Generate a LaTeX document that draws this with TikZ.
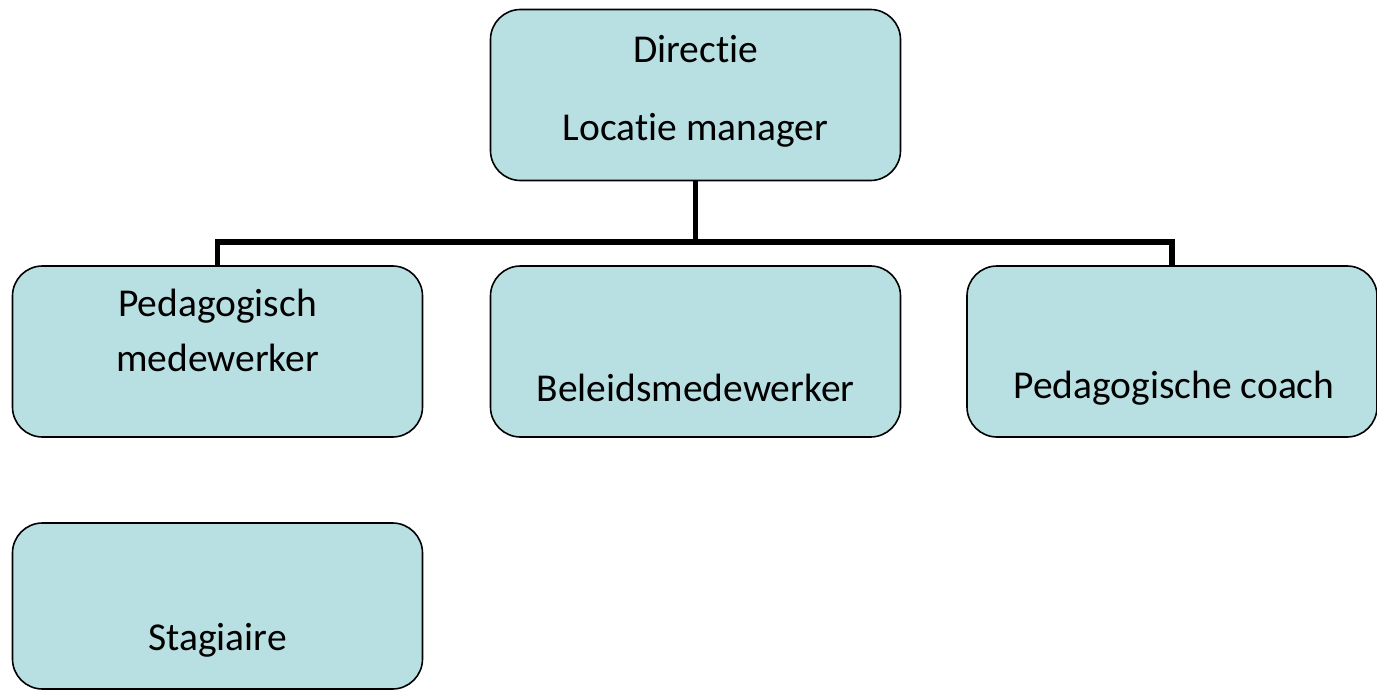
\documentclass[tikz,border=0pt]{standalone}
\usepackage{fontspec}
\setmainfont[RawFeature={-liga;-clig;-calt;-dlig}]{Carlito}
\definecolor{boxfill}{RGB}{184,223,226}
\begin{document}
\begin{tikzpicture}[x=1pt,y=-1pt,
  box/.style={draw=black, line width=1.6pt, fill=boxfill, rounded corners=30pt, minimum width=410pt, minimum height=171pt, inner sep=0pt, outer sep=0pt},
  lbl/.style={font=\fontsize{39.5}{48}\selectfont, inner sep=0pt, anchor=center, text=black},
  conn/.style={draw=black, line width=5.5pt}]
\useasboundingbox (0,0) rectangle (1377,690);
\node[box] (top) at (695.5,95) {};
\node[box] (ped) at (217.5,351.5) {};
\node[box] (mid) at (695.5,351.5) {};
\node[box] (coach) at (1172,351.5) {};
\node[box, minimum height=166pt] (stag) at (217.5,606) {};
\node[lbl] (t1) at (695.5,49) {Directie};
\node[lbl] (t2) at (695.5,130) {Locatie manager};
\node[lbl] (p1) at (217.5,306) {Pedagogisch};
\node[lbl] (p2) at (217.5,358) {medewerker};
\node[lbl] (m1) at (695.5,388) {Beleidsmedewerker};
\node[lbl] (c1) at (1174,388) {Pedagogische coach};
\node[lbl] (s1) at (217.5,640) {Stagiaire};
\coordinate (bus) at (695.5,242);
\draw[conn] (top.south) -- (bus);
\draw[conn] (ped.north) |- (bus) -| (coach.north);
\end{tikzpicture}
\end{document}
